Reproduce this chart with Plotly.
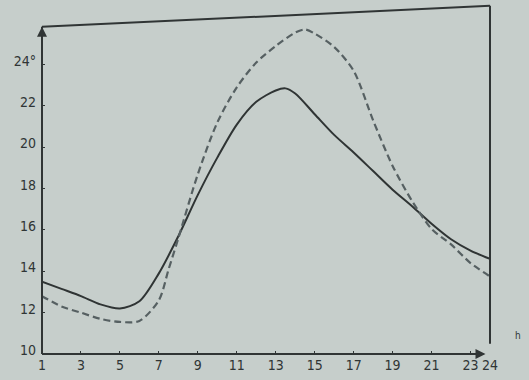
import plotly.graph_objects as go

# Hours and temperatures (°C)
hours_solid = [1, 2, 3, 4, 5, 6, 7, 8, 9, 10, 11, 12, 13, 13.5, 14, 15, 16, 17, 18, 19, 20, 21, 22, 23, 24]
temp_solid = [13.5, 13.15, 12.8, 12.4, 12.2, 12.55, 13.9, 15.7, 17.7, 19.5, 21.1, 22.2, 22.75, 22.85, 22.6,
              21.6, 20.6, 19.75, 18.85, 17.95, 17.15, 16.3, 15.55, 15.0, 14.6]

hours_dashed = [1, 2, 3, 4, 5, 6, 7, 7.5, 8, 9, 10, 11, 12, 13, 14, 14.5, 15, 16, 17, 18, 19, 20, 21, 22, 23, 24]
temp_dashed = [12.8, 12.3, 12.0, 11.7, 11.55, 11.6, 12.6, 14.1, 15.6, 18.7, 21.2, 22.9, 24.1, 24.9, 25.55,
               25.7, 25.5, 24.85, 23.7, 21.3, 19.1, 17.4, 16.05, 15.3, 14.4, 13.75]

x_ticks = [1, 3, 5, 7, 9, 11, 13, 15, 17, 19, 21, 23, 24]
x_labels = ["1", "3", "5", "7", "9", "11", "13", "15", "17", "19", "21", "23", "24"]
y_ticks = [10, 12, 14, 16, 18, 20, 22, 24]
y_labels = ["10", "12", "14", "16", "18", "20", "22", "24°"]

bg = "#c6cecb"
ink = "#303535"
font = dict(family="DejaVu Sans Condensed, DejaVu Sans, sans-serif", size=14, color=ink)

fig = go.Figure()
fig.add_trace(go.Scatter(x=hours_solid, y=temp_solid, mode="lines",
                         line=dict(color="#2f3434", width=2, shape="spline", smoothing=0.8),
                         showlegend=False, hoverinfo="skip"))
fig.add_trace(go.Scatter(x=hours_dashed, y=temp_dashed, mode="lines",
                         line=dict(color="#566062", width=2.2, dash="7px,4px", shape="spline", smoothing=0.8),
                         showlegend=False, hoverinfo="skip"))

fig.update_layout(
    width=529, height=380,
    margin=dict(l=42, r=39, t=15, b=26),
    paper_bgcolor=bg, plot_bgcolor=bg,
    font=font,
    xaxis=dict(range=[1, 24], tickmode="array", tickvals=x_ticks, ticktext=x_labels,
               showgrid=False, zeroline=False, showline=False, automargin=False,
               ticks="inside", ticklen=3, tickcolor=ink, tickfont=font,
               ticklabelstandoff=1),
    yaxis=dict(range=[10, 26.4], tickmode="array", tickvals=y_ticks, ticktext=y_labels,
               showgrid=False, zeroline=False, showline=False, automargin=False,
               ticks="inside", ticklen=3, tickcolor=ink, tickfont=font,
               ticklabelshift=-4, ticklabelstandoff=5),
)

line = dict(color=ink, width=2)
# frame (slightly skewed like the scan)
fig.add_shape(type="line", xref="paper", yref="paper", x0=0, y0=0.965, x1=1, y1=1.027, line=line)
fig.add_shape(type="line", xref="paper", yref="paper", x0=1, y0=1.027, x1=1, y1=0.03, line=line)
fig.add_shape(type="line", xref="paper", yref="paper", x0=0, y0=0, x1=0, y1=0.965, line=line)
fig.add_shape(type="line", xref="paper", yref="paper", x0=0, y0=0, x1=0.985, y1=0, line=line)

# axis arrows
fig.add_annotation(xref="paper", yref="paper", x=0, y=0.965, ax=0, ay=14, text="",
                   showarrow=True, arrowhead=2, arrowsize=1, arrowwidth=2, arrowcolor=ink)
fig.add_annotation(xref="paper", yref="paper", x=0.99, y=0, ax=-14, ay=0, text="",
                   showarrow=True, arrowhead=2, arrowsize=1, arrowwidth=2, arrowcolor=ink)

fig.add_annotation(xref="paper", yref="paper", x=1, y=0, xshift=33, yshift=11, text="h",
                   showarrow=False, font=dict(family=font["family"], size=10, color=ink))

fig.write_html("out.html", config={"displayModeBar": False},
               post_script="document.body.style.margin='0';document.body.style.padding='0';"
                           "document.body.style.background='" + bg + "';")
